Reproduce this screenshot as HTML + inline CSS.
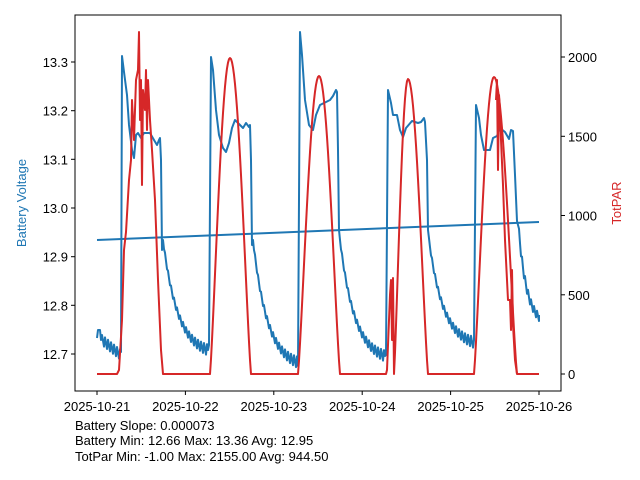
<!DOCTYPE html>
<html><head><meta charset="utf-8"><style>
body{margin:0;background:#fff;}
svg{display:block;font-family:"Liberation Sans",sans-serif;}
</style></head><body>
<svg id="s" width="640" height="480" xmlns="http://www.w3.org/2000/svg">
<rect width="640" height="480" fill="#fff"/>
<g id="plot"></g>
<rect x="75" y="15" width="486" height="376" fill="none" stroke="#000" stroke-width="1"/>
<g font-size="13" fill="#000">
<g stroke="#000">
<line x1="75" y1="62" x2="71" y2="62"/><line x1="75" y1="110.7" x2="71" y2="110.7"/><line x1="75" y1="159.3" x2="71" y2="159.3"/><line x1="75" y1="208" x2="71" y2="208"/><line x1="75" y1="256.7" x2="71" y2="256.7"/><line x1="75" y1="305.3" x2="71" y2="305.3"/><line x1="75" y1="354" x2="71" y2="354"/>
<line x1="561" y1="57" x2="565" y2="57"/><line x1="561" y1="136.3" x2="565" y2="136.3"/><line x1="561" y1="215.5" x2="565" y2="215.5"/><line x1="561" y1="294.8" x2="565" y2="294.8"/><line x1="561" y1="374" x2="565" y2="374"/>
<line x1="97" y1="391" x2="97" y2="395"/><line x1="185.4" y1="391" x2="185.4" y2="395"/><line x1="273.8" y1="391" x2="273.8" y2="395"/><line x1="362.2" y1="391" x2="362.2" y2="395"/><line x1="450.6" y1="391" x2="450.6" y2="395"/><line x1="539" y1="391" x2="539" y2="395"/>
</g>
<g text-anchor="end">
<text x="68" y="67">13.3</text><text x="68" y="115.7">13.2</text><text x="68" y="164.3">13.1</text><text x="68" y="213">13.0</text><text x="68" y="261.7">12.9</text><text x="68" y="310.3">12.8</text><text x="68" y="359">12.7</text>
</g>
<g>
<text x="568" y="62">2000</text><text x="568" y="141.3">1500</text><text x="568" y="220.5">1000</text><text x="568" y="299.8">500</text><text x="568" y="379">0</text>
</g>
<g text-anchor="middle">
<text x="97" y="411">2025-10-21</text><text x="185.4" y="411">2025-10-22</text><text x="273.8" y="411">2025-10-23</text><text x="362.2" y="411">2025-10-24</text><text x="450.6" y="411">2025-10-25</text><text x="539" y="411">2025-10-26</text>
</g>
<text x="26" y="203" fill="#1f77b4" text-anchor="middle" transform="rotate(-90 26 203)">Battery Voltage</text>
<text x="621" y="203" fill="#d62728" text-anchor="middle" transform="rotate(-90 621 203)">TotPAR</text>
<text x="75" y="430">Battery Slope: 0.000073</text>
<text x="75" y="445">Battery Min: 12.66 Max: 13.36 Avg: 12.95</text>
<text x="75" y="461">TotPar Min: -1.00 Max: 2155.00 Avg: 944.50</text>
</g>
</svg>
<script>
var g=document.getElementById('plot');
function pl(pts,c){var p=document.createElementNS('http://www.w3.org/2000/svg','polyline');p.setAttribute('points',pts.map(function(a){return a[0].toFixed(1)+','+a[1].toFixed(1)}).join(' '));p.setAttribute('fill','none');p.setAttribute('stroke',c);p.setAttribute('stroke-width','2');p.setAttribute('stroke-linejoin','round');g.appendChild(p);}
// blue
var B=[[97,338],[98,330],[100,330],[101,340]];
function decay(x0,x1,yEnd){for(var x=x0;x<=x1;x+=1){var t=(x-x0)/(x1-x0);var y=240+(yEnd-240)*(1-Math.exp(-3*t))/(1-Math.exp(-3));var n=((x%3)-1)*4*(0.4+t);B.push([x,y+n]);}}
for(var x=102;x<=120;x++){B.push([x,340+(x-102)*0.8+((x%3)-1)*5]);}
B.push([121,352],[122,56],[124,72],[127,95],[129,125],[132,150],[134,158],[136,135],[138,133],[141,138],[144,133],[150,133],[154,140],[157,145],[159,140],[160,138],[161,160],[162,250]);
decay(163,208,350);
B.push([209,345],[211,57],[213,70],[216,110],[219,135],[223,148],[226,152],[229,143],[232,128],[235,120],[240,125],[243,128],[246,123],[249,127],[250,125],[251,160],[252,245]);
decay(253,297,362);
B.push([298,366],[300,32],[302,55],[305,100],[309,125],[313,130],[316,115],[320,105],[324,103],[330,100],[333,96],[336,90],[337,92],[338,150],[339,230]);
decay(340,385,356);
B.push([386,355],[388,90],[391,103],[393,115],[397,115],[400,130],[403,137],[406,128],[412,121],[418,123],[421,122],[424,118],[425,122],[427,160],[428,230]);
decay(429,473,342);
B.push([474,340],[476,105],[479,118],[481,135],[484,150],[490,150],[493,138],[497,136],[500,128],[505,132],[509,139],[511,130],[513,131],[515,175],[517,221]);
for(var x=518;x<=539;x++){var t=(x-518)/21;B.push([x,221+(96)*(1-Math.exp(-2.5*t))/(1-Math.exp(-2.5))+((x%3)-1)*4]);}
B.push([539,315]);
pl(B,'#1f77b4');
pl([[97,240],[539,222]],'#1f77b4');
// red
var R=[];
function day(x0,x1,xp,pk,seg){for(var x=x0;x<=x1;x+=1){var t;if(x<=xp)t=0.5*(x-x0)/(xp-x0);else t=0.5+0.5*(x-xp)/(x1-xp);var s=Math.pow(Math.sin(Math.PI*t),1.2);R.push([x,374-(374-pk)*s]);}}
R.push([97,374],[117,374]);
R.push([119,370],[122,320],[124,250],[126,232],[129,180],[131,160],[132,100],[134,140],[136,80],[138,70],[139,32],[140,120],[141,80],[142,185],[143,90],[145,110],[146,70],[147,130],[148,80],[150,120],[152,150],[155,200],[158,280],[161,350],[163,374],[209,374]);
day(210,251,230,58);R.push([298,374]);
day(298,340,319,76);R.push([386,374]);
R.push([387,370],[390,295],[391,280],[392,340],[393,278]);
day(394,428,408,79);R.push([474,374]);
day(474,517,494,77);
R.push([517,374],[539,374]);
pl(R,'#d62728');
// overlay red spikes for last day
pl([[496,100],[497,80],[498,170],[499,95],[500,110],[501,140],[503,185],[505,240],[508,300],[510,300],[511,330],[512,270],[513,325],[515,360],[517,374]],'#d62728');
</script>
</body></html>
